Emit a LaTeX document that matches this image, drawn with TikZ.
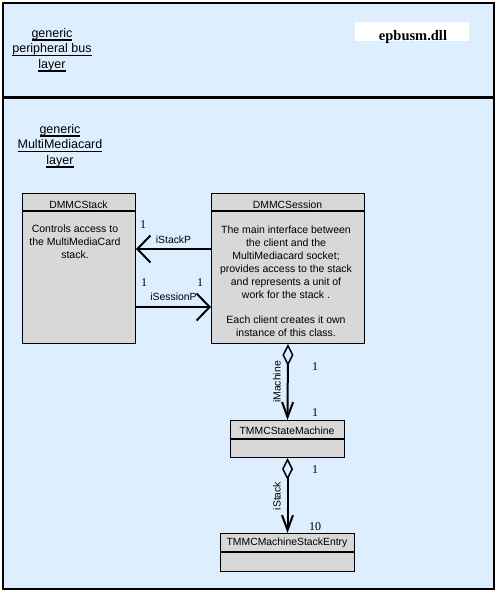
\documentclass[tikz,border=0pt]{standalone}
\usepackage{fontspec}
\setmainfont{Liberation Sans}
\newfontfamily\numfont{Liberation Serif}
\usetikzlibrary{arrows.meta}

\definecolor{layerblue}{RGB}{221,238,255}
\definecolor{classgrey}{RGB}{216,216,216}

% thick underline for the layer titles
\newcommand\layerul[1]{\setbox0\hbox{#1}\leavevmode\rlap{\rule[-3.6pt]{\wd0}{1.4pt}}\box0}

\tikzset{
  classbox/.style={draw, line width=1pt, fill=classgrey, anchor=north west, inner sep=0pt},
  classname/.style={font=\fontsize{10.4}{12}\selectfont},
  boxtext/.style={align=center, font=\fontsize{10.5}{12.9}\selectfont},
  layertitle/.style={align=center, font=\fontsize{12.5}{15.5}\selectfont},
  mult/.style={font=\numfont\fontsize{12}{12}\selectfont},
  role/.style={font=\fontsize{10.4}{12}\selectfont},
  assoc/.style={line width=2pt, -{Straight Barb[length=13pt,width=27pt,line width=2pt]}},
  aggr/.style={line width=2pt, {Diamond[open,length=22pt,width=11pt,line width=1.5pt]}-{Straight Barb[length=15pt,width=11pt,line width=2pt]}},
}

\begin{document}
\begin{tikzpicture}[x=1pt, y=-1pt]

\useasboundingbox (0,0) rectangle (498,593);

% the two layers
\draw[line width=2.5pt, fill=layerblue] (3,3) rectangle (494,589);
\draw[line width=3pt] (3,98) -- (494,98);

\node[layertitle] (buslayer) at (52,50) {\layerul{generic}\\\layerul{peripheral bus}\\\layerul{layer}};
\node[fill=white, minimum width=114pt, minimum height=19pt, inner sep=0pt] (dllbox) at (412,31.5) {};
\node[anchor=base, font=\numfont\bfseries\fontsize{14.5}{14.5}\selectfont] (dll) at (413,40.5) {epbusm.dll};

\node[layertitle] (mmclayer) at (60,146) {\layerul{generic}\\\layerul{MultiMediacard}\\\layerul{layer}};

% classes
\node[classbox, minimum width=113pt, minimum height=150pt] (stack) at (22,193) {};
\draw[line width=2pt] ([yshift=-18pt]stack.north west) -- ([yshift=-18pt]stack.north east);
\node[classname] (stackname) at (78.5,205) {DMMCStack};
\node[boxtext] (stacktext) at (75,242) {Controls access to\\the MultiMediaCard\\stack.};

\node[classbox, minimum width=153pt, minimum height=150pt] (session) at (211,193) {};
\draw[line width=2pt] ([yshift=-18pt]session.north west) -- ([yshift=-18pt]session.north east);
\node[classname] (sessionname) at (287.5,205) {DMMCSession};
\node[boxtext] (sessiontext) at (286,281.5) {The main interface between\\the client and the\\MultiMediacard socket;\\provides access to the stack\\and represents a unit of\\work for the stack .\\\mbox{}\\Each client creates it own\\instance of this class.};

\node[classbox, minimum width=114pt, minimum height=37pt] (machine) at (230,420) {};
\draw[line width=2pt] ([yshift=-19pt]machine.north west) -- ([yshift=-19pt]machine.north east);
\node[classname] (machinename) at (287,430.5) {TMMCStateMachine};

\node[classbox, minimum width=134pt, minimum height=38pt] (entry) at (220,533) {};
\draw[line width=2pt] ([yshift=-19pt]entry.north west) -- ([yshift=-19pt]entry.north east);
\node[classname] (entryname) at (287,543) {TMMCMachineStackEntry};

% associations
\draw[assoc] ([yshift=-56pt]session.north west) -- node[role, above=1pt] (istackp) {iStackP} ([yshift=-56pt]stack.north east);
\draw[assoc] ([yshift=-114pt]stack.north east) -- node[role, above=2pt] (isessionp) {iSessionP} ([yshift=-114pt]session.north west);

\node[mult] (m1) at (143,225) {1};
\node[mult] (m2) at (144,283) {1};
\node[mult] (m3) at (200,283) {1};

\draw[aggr] (session.south) -- (machine.north);
\node[role, rotate=90] (imachine) at (277,382) {iMachine};
\node[mult] (m4) at (315,367) {1};
\node[mult] (m5) at (315,413) {1};

\draw[aggr] (machine.south) -- (entry.north);
\node[role, rotate=90] (istack) at (277,496) {iStack};
\node[mult] (m6) at (315,470) {1};
\node[mult] (m7) at (315,527) {10};

\end{tikzpicture}
\end{document}
